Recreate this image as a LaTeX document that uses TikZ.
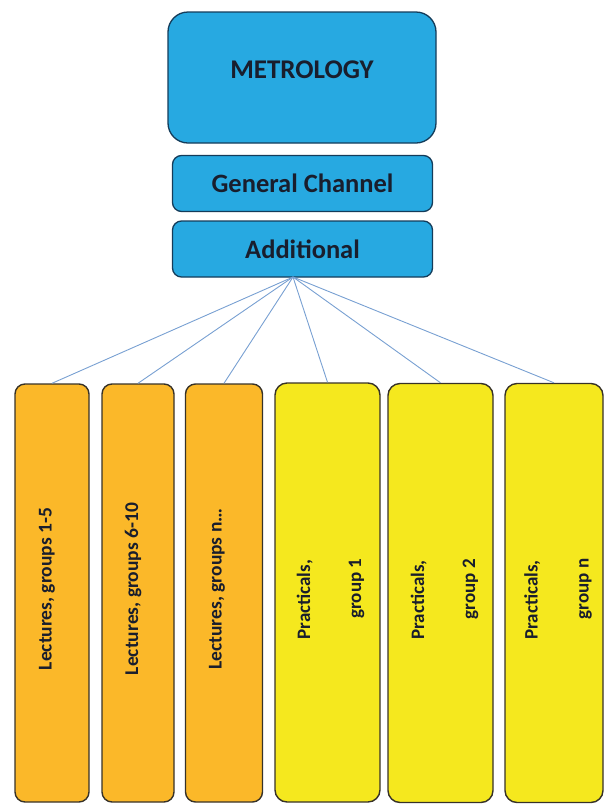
\documentclass[tikz,border=0pt]{standalone}
\usepackage{fontspec}
\setmainfont{Carlito}
\definecolor{boxblue}{RGB}{39,169,225}
\definecolor{boxorange}{RGB}{251,184,41}
\definecolor{boxyellow}{RGB}{245,232,30}
\definecolor{edgedark}{RGB}{55,50,40}
\definecolor{edgeblue}{RGB}{20,60,90}
\definecolor{linkblue}{RGB}{120,160,210}
\definecolor{txtdark}{RGB}{25,30,45}
\begin{document}
\begin{tikzpicture}[x=1pt,y=-1pt,
  bluebox/.style={draw=edgeblue,line width=1.3pt,fill=boxblue,rounded corners=9pt,inner sep=0pt,
    text=txtdark,font=\bfseries\fontsize{26.5}{30}\selectfont},
  lectbox/.style={draw=edgedark,line width=1.4pt,fill=boxorange,rounded corners=10pt,inner sep=0pt,
    minimum width=73pt,minimum height=418pt},
  pracbox/.style={draw=edgedark,line width=1.4pt,fill=boxyellow,rounded corners=12pt,inner sep=0pt,
    minimum height=419pt},
  vtext/.style={rotate=90,text=txtdark,font=\bfseries\fontsize{19.5}{22}\selectfont,inner sep=0pt},
  ptext/.style={rotate=90,text=txtdark,align=center,font=\bfseries\fontsize{19}{51}\selectfont,inner sep=0pt},
  link/.style={draw=linkblue,line width=0.9pt}]
\useasboundingbox (0,0) rectangle (611,804);
% top boxes
\node[bluebox,rounded corners=20pt,minimum width=268pt,minimum height=131pt,font=\bfseries\fontsize{27}{30}\selectfont]
  (metro) at (302,77.5) {\raisebox{15pt}{METROLOGY}};
\node[bluebox,minimum width=260pt,minimum height=56pt] (gen) at (302.5,183.5) {\raisebox{-6pt}{General Channel}};
\node[bluebox,minimum width=260pt,minimum height=56pt] (add) at (302.5,249) {\raisebox{-3pt}{Additional}};
\coordinate (hub) at (293,277);
% bottom boxes
\node[lectbox,minimum width=74pt] (l1) at (52,593) {};
\node[lectbox,minimum width=72pt] (l2) at (138,593) {};
\node[lectbox,minimum width=77pt] (l3) at (224,593) {};
\node[pracbox,minimum width=105pt] (p1) at (327.5,592.5) {};
\node[pracbox,minimum width=105pt] (p2) at (440.5,593) {};
\node[pracbox,minimum width=98pt] (p3) at (554,593) {};
% texts
\node[vtext] (t1) at ([xshift=-5pt,yshift=4pt]l1.center) {Lectures, groups 1-5};
\node[vtext] (t2) at ([xshift=-5pt,yshift=4pt]l2.center) {Lectures, groups 6-10};
\node[vtext] (t3) at ([xshift=-7pt,yshift=4pt]l3.center) {Lectures, groups n…};
\node[ptext] (q1) at ([xshift=3pt,yshift=4pt]p1.center) {Practicals,\hspace*{22pt}\\group 1};
\node[ptext] (q2) at ([xshift=4pt,yshift=4pt]p2.center) {Practicals,\hspace*{22pt}\\group 2};
\node[ptext] (q3) at ([xshift=4pt,yshift=4pt]p3.center) {Practicals,\hspace*{22pt}\\group n};
% links
\foreach \b in {l1,l2,l3,p1,p2,p3} \draw[link] (hub) -- (\b.north);
\end{tikzpicture}
\end{document}
